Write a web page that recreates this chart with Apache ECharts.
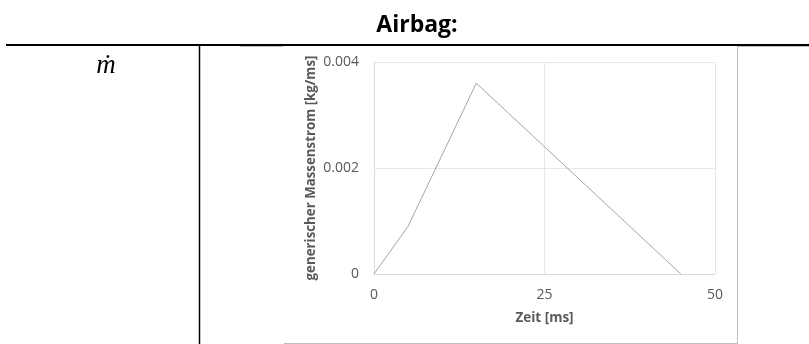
<!DOCTYPE html>
<html>
<head>
<meta charset="utf-8">
<style>
  html, body { margin: 0; padding: 0; background: #ffffff; }
  #chart { width: 809px; height: 344px; }
</style>
<script src="https://cdn.jsdelivr.net/npm/echarts@6/dist/echarts.min.js"></script>
</head>
<body>
<div id="chart"></div>
<script>
// Generic airbag mass flow profile: time in ms, mass flow in kg/ms
const timeMs = [0, 5, 15, 45];
const massFlow = [0, 0.0009, 0.0036, 0];

const xTicks = { min: 0, max: 50, interval: 25 };
const yTicks = { min: 0, max: 0.004, interval: 0.002 };

const titleText = 'Airbag:';
const rowSymbol = 'ṁ';
const xName = 'Zeit [ms]';
const yName = 'generischer Massenstrom [kg/ms]';

const textFont = '"Open Sans", "Noto Sans", sans-serif';
const labelColor = '#595959';

const chart = echarts.init(document.getElementById('chart'), null, { renderer: 'canvas' });

const points = timeMs.map((t, i) => [t, massFlow[i]]);

chart.setOption({
  animation: false,
  backgroundColor: '#ffffff',
  grid: { left: 374, right: 94, top: 62, bottom: 70, containLabel: false },
  xAxis: {
    type: 'value',
    min: xTicks.min,
    max: xTicks.max,
    interval: xTicks.interval,
    name: xName,
    nameLocation: 'middle',
    nameGap: 37,
    nameTextStyle: { fontFamily: textFont, fontSize: 13.5, fontWeight: 'bold', color: labelColor },
    axisLine: { show: true, lineStyle: { color: '#d9d9d9', width: 1 } },
    axisTick: { show: false },
    axisLabel: { fontFamily: textFont, fontSize: 14, color: labelColor, margin: 14 },
    splitLine: { show: true, lineStyle: { color: '#e8e8e8', width: 1 } }
  },
  yAxis: {
    type: 'value',
    min: yTicks.min,
    max: yTicks.max,
    interval: yTicks.interval,
    name: yName,
    nameLocation: 'middle',
    nameGap: 56,
    nameRotate: 90,
    nameTextStyle: { fontFamily: textFont, fontSize: 13.3, fontWeight: 'bold', color: labelColor },
    axisLine: { show: true, lineStyle: { color: '#d9d9d9', width: 1 } },
    axisTick: { show: false },
    axisLabel: {
      fontFamily: textFont, fontSize: 14, color: labelColor, margin: 15,
      formatter: v => (v === 0 ? '0' : v.toFixed(3))
    },
    splitLine: { show: true, lineStyle: { color: '#e8e8e8', width: 1 } }
  },
  series: [{
    type: 'line',
    data: points,
    showSymbol: false,
    symbol: 'none',
    lineStyle: { color: '#a5a5a5', width: 1 },
    silent: true
  }],
  graphic: [
    // table rule under the heading
    { type: 'line', silent: true, shape: { x1: 6, y1: 45, x2: 809, y2: 45 },
      style: { stroke: '#000000', lineWidth: 2 } },
    // column divider
    { type: 'line', silent: true, shape: { x1: 199.5, y1: 45, x2: 199.5, y2: 344 },
      style: { stroke: '#000000', lineWidth: 1.5 } },
    // chart frame
    { type: 'line', silent: true, shape: { x1: 240, y1: 46.5, x2: 283, y2: 46.5 },
      style: { stroke: '#bfbfbf', lineWidth: 1 } },
    { type: 'line', silent: true, shape: { x1: 737, y1: 46.5, x2: 809, y2: 46.5 },
      style: { stroke: '#bfbfbf', lineWidth: 1 } },
    { type: 'line', silent: true, shape: { x1: 737.5, y1: 46, x2: 737.5, y2: 344 },
      style: { stroke: '#bfbfbf', lineWidth: 1 } },
    { type: 'line', silent: true, shape: { x1: 284, y1: 343.5, x2: 738, y2: 343.5 },
      style: { stroke: '#bfbfbf', lineWidth: 1 } },
    // heading
    { type: 'text', silent: true, x: 417, y: 37,
      style: { text: titleText, font: 'bold 23px ' + textFont, fill: '#000000',
               textAlign: 'center', textVerticalAlign: 'bottom' } },
    // row symbol
    { type: 'text', silent: true, x: 106, y: 79,
      style: { text: rowSymbol, font: 'italic 27px "Liberation Serif", "DejaVu Serif", serif', fill: '#000000',
               textAlign: 'center', textVerticalAlign: 'bottom' } }
  ]
});
</script>
</body>
</html>
